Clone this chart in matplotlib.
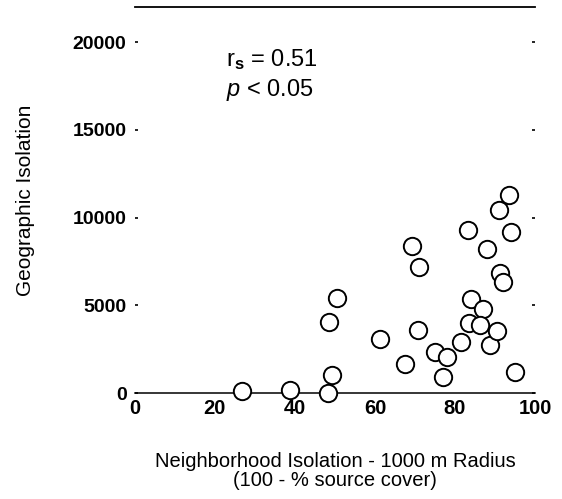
import matplotlib
matplotlib.use("Agg")
import matplotlib.pyplot as plt

plt.rcParams['font.family'] = ['Liberation Sans', 'DejaVu Sans']
plt.rcParams['mathtext.fontset'] = 'custom'
plt.rcParams['mathtext.rm'] = 'Liberation Sans'
plt.rcParams['mathtext.it'] = 'Liberation Sans:italic'
plt.rcParams['mathtext.bf'] = 'Liberation Sans:bold'

# neighborhood isolation (100 - % source cover) vs geographic isolation
neigh_iso = [26.7, 38.8, 48.2, 49.3, 48.6, 50.4, 61.3, 67.5, 69.2, 71.1,
             70.7, 75.0, 77.9, 77.1, 81.5, 83.3, 83.9, 83.6, 86.9, 86.3,
             87.9, 88.8, 90.4, 91.0, 93.6, 93.9, 91.3, 92.1, 95.0]
geo_iso = [100, 200, 0, 1000, 4070, 5400, 3070, 1650, 8350, 7200,
           3600, 2350, 2050, 930, 2900, 9300, 5350, 4000, 4800, 3900,
           8200, 2750, 3550, 10450, 11300, 9200, 6850, 6300, 1200]

xticks = [0, 20, 40, 60, 80, 100]
yticks = [0, 5000, 10000, 15000, 20000]

fig = plt.figure(figsize=(5.62, 4.99), dpi=100)
ax = fig.add_axes([0.240, 0.2124, 0.712, 0.7736])

ax.plot(neigh_iso, geo_iso, 'o', ms=12.5, mfc='white', mec='black', mew=1.4,
        clip_on=False, zorder=3)

ax.set_xlim(0, 100)
ax.set_ylim(0, 22000)
ax.set_xticks(xticks)
ax.set_yticks(yticks)
ax.set_xticklabels([str(t) for t in xticks], fontsize=14.5, fontweight='bold')
ax.set_yticklabels([str(t) for t in yticks], fontsize=14, fontweight='bold')

ax.spines['left'].set_visible(False)
ax.spines['right'].set_visible(False)
ax.spines['top'].set_linewidth(1.3)
ax.spines['bottom'].set_linewidth(1.1)
ax.tick_params(axis='x', length=0, pad=4)
ax.tick_params(axis='y', length=2, width=1.2, direction='in', pad=6,
               right=True)

ax.set_xlabel('Neighborhood Isolation - 1000 m Radius\n(100 - % source cover)',
              fontsize=14.5, labelpad=25, linespacing=0.95)
ax.set_ylabel('Geographic Isolation', fontsize=15, labelpad=27)

ax.text(22.8, 18650, r'r$_{\mathbf{s}}$ = 0.51', fontsize=17, va='baseline')
ax.text(22.8, 16950, r'$p$ < 0.05', fontsize=17, va='baseline')

fig.savefig('out.png', dpi=100)
